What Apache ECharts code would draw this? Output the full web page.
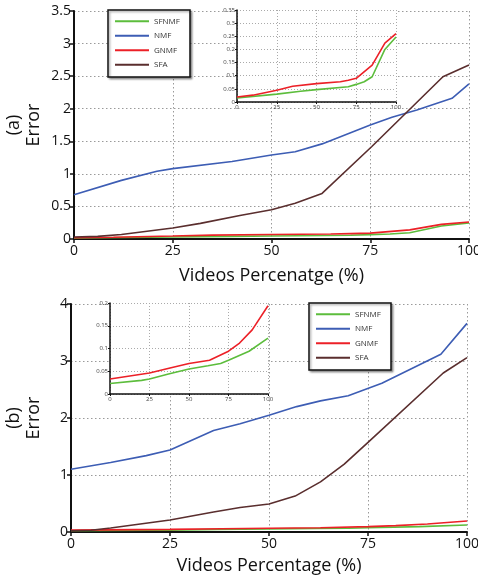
<!DOCTYPE html>
<html>
<head>
<meta charset="utf-8">
<script src="https://cdn.jsdelivr.net/npm/echarts@6/dist/echarts.min.js"></script>
<style>
  html, body { margin: 0; padding: 0; background: #fff; }
  #chart { width: 478px; height: 579px; }
</style>
</head>
<body>
<div id="chart"></div>
<script>
// (a) main panel
const aSFNMF = [[0, 0.015], [25, 0.03], [40, 0.041], [50, 0.047], [70, 0.058], [75, 0.067], [80, 0.077], [85, 0.096], [93, 0.2], [100, 0.247]];
const aGNMF = [[0, 0.019], [10, 0.026], [25, 0.045], [35, 0.06], [50, 0.07], [65, 0.077], [70, 0.083], [75, 0.09], [85, 0.14], [93, 0.224], [100, 0.26]];
const aNMF = [[0, 0.68], [12, 0.9], [21, 1.04], [25, 1.08], [40, 1.19], [50, 1.29], [56, 1.34], [62.8, 1.46], [75, 1.75], [80.5, 1.87], [86.8, 1.98], [95.7, 2.16], [100, 2.38]];
const aSFA = [[0, 0.03], [6, 0.04], [12, 0.07], [25, 0.17], [32, 0.24], [42, 0.36], [50, 0.45], [56, 0.55], [62.8, 0.7], [75.4, 1.42], [93.4, 2.49], [100, 2.67]];

// (b) main panel
const bSFNMF = [[0, 0.023], [20, 0.03], [25, 0.033], [37, 0.044], [50, 0.055], [62, 0.062], [70, 0.067], [75, 0.074], [88, 0.094], [100, 0.123]];
const bGNMF = [[0, 0.033], [25, 0.046], [38, 0.057], [50, 0.067], [63, 0.074], [75, 0.094], [82, 0.112], [90, 0.141], [100, 0.194]];
const bNMF = [[0, 1.1], [10, 1.22], [19, 1.34], [25, 1.44], [36, 1.78], [42.7, 1.9], [50, 2.05], [57, 2.2], [63, 2.3], [70, 2.39], [78.5, 2.61], [93.4, 3.12], [100, 3.66]];
const bSFA = [[0, 0.02], [5, 0.03], [10, 0.07], [25, 0.21], [36, 0.35], [42.7, 0.43], [50, 0.49], [56.6, 0.63], [63, 0.88], [69, 1.19], [74.8, 1.56], [94, 2.79], [100, 3.06]];

const names = ['SFNMF', 'NMF', 'GNMF', 'SFA'];
const colors = { SFNMF: '#5cbd3c', NMF: '#3d5db4', GNMF: '#ec2027', SFA: '#5a2e2e' };

const FONT = 'Open Sans';
const dotted = { show: true, lineStyle: { color: '#9a9a9a', type: [1.5, 2.5], width: 1 } };

function mainX(idx, title, gap) {
  return {
    gridIndex: idx, type: 'value', min: 0, max: 100, interval: 25,
    axisLine: { onZero: false, lineStyle: { color: '#111', width: 2 } },
    axisTick: { show: true, length: 4, lineStyle: { color: '#111', width: 1.5 } },
    axisLabel: { color: '#111', fontFamily: FONT, fontSize: 14, margin: 5 },
    splitLine: dotted,
    name: title, nameLocation: 'middle', nameGap: gap,
    nameTextStyle: { color: '#111', fontFamily: FONT, fontSize: 18 }
  };
}
function mainY(idx, max, interval, title, gap) {
  return {
    gridIndex: idx, type: 'value', min: 0, max: max, interval: interval,
    axisLine: { show: true, lineStyle: { color: '#111', width: 2 } },
    axisTick: { show: true, length: 4, lineStyle: { color: '#111', width: 1.5 } },
    axisLabel: { color: '#111', fontFamily: FONT, fontSize: 14, margin: 3 },
    splitLine: dotted,
    name: title, nameLocation: 'middle', nameGap: gap, nameRotate: 90, nameMoveOverlap: false,
    nameTextStyle: { color: '#111', fontFamily: FONT, fontSize: 18, lineHeight: 20 }
  };
}
function insetX(idx) {
  return {
    gridIndex: idx, type: 'value', min: 0, max: 100, interval: 25, z: 6,
    axisLine: { onZero: false, lineStyle: { color: '#111', width: 1.5 } },
    axisTick: { show: true, length: 2, lineStyle: { color: '#111' } },
    axisLabel: { color: '#444', fontFamily: FONT, fontSize: 6, margin: 2 },
    splitLine: { show: true, lineStyle: { color: '#aaa', type: [1, 2], width: 1 } }
  };
}
function insetY(idx, max, interval, fmt) {
  return {
    gridIndex: idx, type: 'value', min: 0, max: max, interval: interval, z: 6,
    axisLine: { show: true, lineStyle: { color: '#111', width: 1.5 } },
    axisTick: { show: true, length: 2, lineStyle: { color: '#111' } },
    axisLabel: { color: '#444', fontFamily: FONT, fontSize: 6, margin: 2, formatter: fmt },
    splitLine: { show: true, lineStyle: { color: '#aaa', type: [1, 2], width: 1 } }
  };
}
const trimZero = v => (v === 0 ? '0' : String(+v.toFixed(2)));

function line(name, data, xi, yi, z) {
  return {
    name: name, type: 'line', xAxisIndex: xi, yAxisIndex: yi, data: data,
    symbol: 'none', smooth: false, z: z, silent: true,
    lineStyle: { color: colors[name], width: 1.6 }, itemStyle: { color: colors[name] }
  };
}

function legendBox(left, top) {
  return {
    orient: 'vertical', left: left, top: top, data: names,
    icon: 'rect', itemWidth: 34, itemHeight: 2, itemGap: 4,
    padding: [6, 6, 7, 7], borderColor: '#111', borderWidth: 1.5, backgroundColor: '#fff',
    shadowColor: 'rgba(0,0,0,0.35)', shadowBlur: 2, shadowOffsetX: 1.5, shadowOffsetY: 1.5,
    textStyle: { color: '#333', fontFamily: FONT, fontSize: 8, lineHeight: 10.5, width: 30, align: 'center' },
    selectedMode: false, z: 20
  };
}

const chart = echarts.init(document.getElementById('chart'));
chart.setOption({
  animation: false,
  backgroundColor: '#fff',
  grid: [
    { left: 74, top: 11, width: 395, height: 228, outerBoundsMode: 'none', containLabel: false },
    { left: 71, top: 304, width: 396, height: 228, outerBoundsMode: 'none', containLabel: false },
    { left: 237, top: 10, width: 159, height: 92, show: true, backgroundColor: '#fff', borderWidth: 0, z: 5, outerBoundsMode: 'none', containLabel: false },
    { left: 110, top: 303, width: 158, height: 91, show: true, backgroundColor: '#fff', borderWidth: 0, z: 5, outerBoundsMode: 'none', containLabel: false }
  ],
  xAxis: [
    mainX(0, 'Videos Percenatge (%)', 28),
    mainX(1, 'Videos Percentage (%)', 25),
    insetX(2),
    insetX(3)
  ],
  yAxis: [
    mainY(0, 3.5, 0.5, '(a)\nError', 30),
    mainY(1, 4, 1, '(b)\nError', 27),
    insetY(2, 0.35, 0.05, trimZero),
    insetY(3, 0.2, 0.05, trimZero)
  ],
  legend: [legendBox(108, 10), legendBox(309, 303)],
  series: [
    line('SFNMF', aSFNMF, 0, 0, 2),
    line('NMF', aNMF, 0, 0, 2),
    line('GNMF', aGNMF, 0, 0, 2),
    line('SFA', aSFA, 0, 0, 2),
    line('SFNMF', bSFNMF, 1, 1, 2),
    line('NMF', bNMF, 1, 1, 2),
    line('GNMF', bGNMF, 1, 1, 2),
    line('SFA', bSFA, 1, 1, 2),
    line('SFNMF', aSFNMF, 2, 2, 7),
    line('GNMF', aGNMF, 2, 2, 7),
    line('SFNMF', bSFNMF, 3, 3, 7),
    line('GNMF', bGNMF, 3, 3, 7)
  ]
});
</script>
</body>
</html>
